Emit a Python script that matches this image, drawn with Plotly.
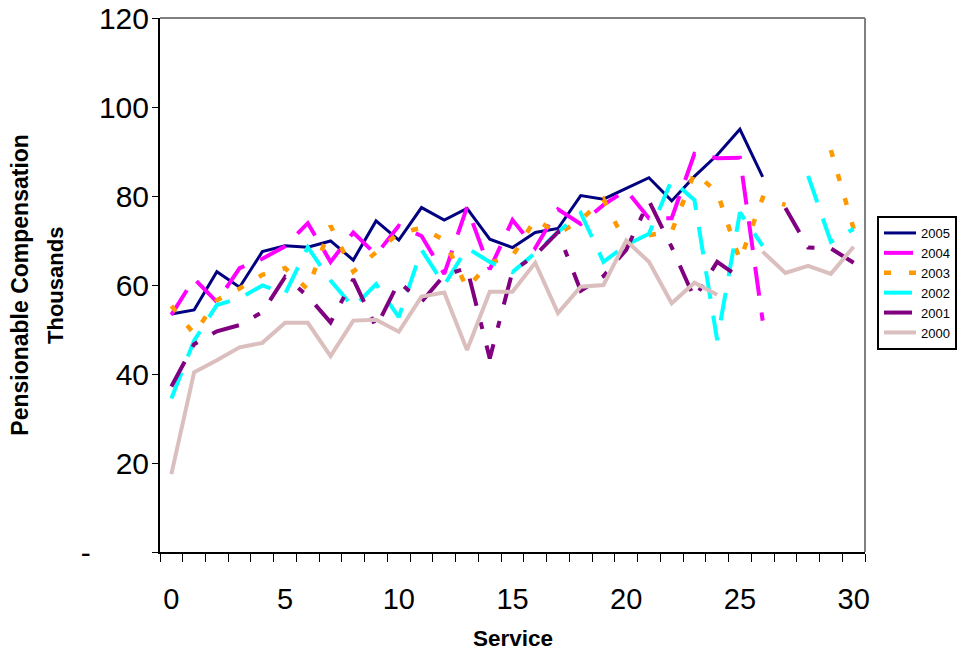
import plotly.graph_objects as go

# Years of service (category positions 0..30)
service = list(range(31))
tick_positions = [0, 5, 10, 15, 20, 25, 30]
tick_labels = ["0", "5", "10", "15", "20", "25", "30"]
y_ticks = [0, 20, 40, 60, 80, 100, 120]
y_tick_labels = ["-" + "\u00a0" * 7, "20", "40", "60", "80", "100", "120"]

# Average pensionable compensation (thousands) by year of service
comp_2005 = [53.5, 54.4, 63.0, 59.5, 67.5, 68.8, 68.5, 69.9, 65.6, 74.4, 70.1, 77.4, 74.6, 77.2,
             70.3, 68.4, 71.8, 72.7, 80.1, 79.3, 81.7, 84.1, 78.9, 84.4, 89.2, 95.0, 84.3,
             None, None, None, None]
comp_2004 = [53.3, 61.4, 56.2, 63.8, 65.9, 68.7, 73.9, 65.2, 71.8, 66.8, 73.3, 71.0, 62.5, 77.5,
             63.5, 74.6, 68.3, 77.0, 73.7, 78.0, 81.3, 75.0, 75.0, 89.5, 88.5, 88.6, 52.0,
             None, None, None, None]
comp_2003 = [55.3, 49.0, 56.6, 59.2, 62.3, 63.8, 59.0, 73.3, 63.0, 67.4, 71.7, 72.8, 70.1, 59.3,
             65.0, 66.5, 74.8, 71.5, 74.6, 79.3, 69.2, 71.2, 72.0, 85.2, 80.9, 65.5, 79.6,
             78.0, None, 90.3, 72.6]
comp_2002 = [34.5, 47.5, 55.5, 57.0, 59.9, 58.0, 68.5, 61.0, 55.0, 60.2, 52.8, 67.9, 60.0, 68.3,
             65.2, 62.9, 67.2, 71.9, 76.2, 65.2, 69.0, 71.5, 83.6, 79.1, 47.6, 76.3, 68.8,
             None, 84.5, 69.7, 72.6]
comp_2001 = [37.2, 46.7, 49.6, 51.0, 53.9, 61.8, 57.5, 51.6, 61.3, 50.5, 60.7, 56.2, 62.2, 63.8,
             43.5, 63.1, 66.7, 71.9, 58.7, 62.0, 67.9, 78.9, 68.5, 57.0, 65.2, 61.6, None,
             77.3, 68.4, 68.2, 65.0]
comp_2000 = [17.5, 40.4, 43.1, 46.0, 47.0, 51.5, 51.5, 44.0, 52.0, 52.2, 49.5, 57.4, 58.3, 45.4,
             58.5, 58.5, 65.0, 53.7, 59.6, 60.0, 70.0, 65.2, 55.9, 60.5, 57.8, None, 67.5,
             62.7, 64.3, 62.5, 68.6]

series = [
    ("2005", comp_2005, "#000080", 3, "solid"),
    ("2004", comp_2004, "#FF00FF", 4, "29px,17px"),
    ("2003", comp_2003, "#FF9900", 4.5, "7px,18px"),
    ("2002", comp_2002, "#00FFFF", 4, "28px,17px"),
    ("2001", comp_2001, "#800080", 4, "28px,17px,7px,17px"),
    ("2000", comp_2000, "#DBBEBE", 4, "solid"),
]

fig = go.Figure()
for name, vals, color, width, dash in series:
    fig.add_trace(go.Scatter(
        x=service, y=vals, name=name, mode="lines",
        line=dict(color=color, width=width, dash=dash),
        connectgaps=False,
    ))

font_family = "Arial, Liberation Sans, sans-serif"

fig.update_layout(
    width=961, height=656,
    margin=dict(l=160, r=96, t=18, b=104, autoexpand=False),
    paper_bgcolor="white", plot_bgcolor="white",
    font=dict(family=font_family, color="black"),
    showlegend=True,
    legend=dict(
        xref="container", yref="container",
        x=877 / 961, y=1 - 216 / 656, xanchor="left", yanchor="top",
        bordercolor="black", borderwidth=2, bgcolor="white",
        font=dict(size=13, family=font_family),
        itemwidth=32, tracegroupgap=0,
    ),
    xaxis=dict(
        range=[-0.5, 30.5], tickmode="array", tickvals=tick_positions, ticktext=tick_labels,
        ticks="", showline=True, linecolor="black", linewidth=2,
        showgrid=False, zeroline=False,
        tickfont=dict(size=29),
        ticklabelstandoff=20,
        minor=dict(tick0=-0.5, dtick=1, ticks="outside", ticklen=8,
                   tickcolor="black", tickwidth=1, showgrid=False),
    ),
    yaxis=dict(
        range=[0, 120], tickmode="array", tickvals=y_ticks, ticktext=y_tick_labels,
        ticks="outside", ticklen=6, tickcolor="black", tickwidth=1,
        showline=True, linecolor="black", linewidth=2,
        showgrid=False, zeroline=False,
        tickfont=dict(size=30),
        ticklabelstandoff=-3,
    ),
    shapes=[
        dict(type="line", xref="paper", yref="paper", x0=0, x1=1, y0=1, y1=1,
             line=dict(color="#808080", width=2)),
        dict(type="line", xref="paper", yref="paper", x0=1, x1=1, y0=0, y1=1,
             line=dict(color="#808080", width=2)),
    ],
    annotations=[
        dict(text="<b>Service</b>", xref="paper", yref="paper", x=0.5, y=-0.162,
             xanchor="center", yanchor="middle", showarrow=False,
             font=dict(size=22.5, family=font_family)),
        dict(text="<b>Pensionable Compensation</b>", xref="paper", yref="paper",
             x=-0.199, y=0.5, xanchor="center", yanchor="middle", textangle=-90,
             showarrow=False, font=dict(size=23, family=font_family)),
        dict(text="<b>Thousands</b>", xref="paper", yref="paper",
             x=-0.149, y=0.5, xanchor="center", yanchor="middle", textangle=-90,
             showarrow=False, font=dict(size=22, family=font_family)),
    ],
)

fig.write_html("out.html")
